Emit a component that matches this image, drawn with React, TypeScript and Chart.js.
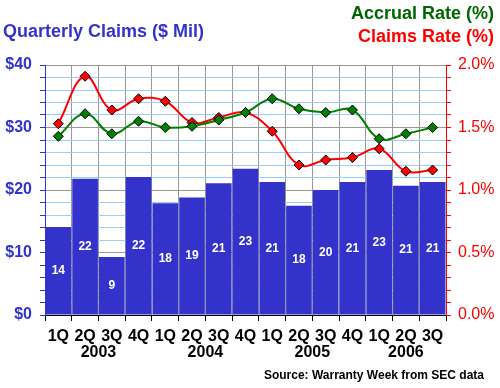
import React, { useEffect, useRef } from "react";
import { Chart, registerables } from "chart.js";
Chart.register(...registerables);

const quarters = ["1Q", "2Q", "3Q", "4Q", "1Q", "2Q", "3Q", "4Q", "1Q", "2Q", "3Q", "4Q", "1Q", "2Q", "3Q"];
const years = ["2003", "2004", "2005", "2006"];
const yearOfQuarter = [0, 0, 0, 0, 1, 1, 1, 1, 2, 2, 2, 2, 3, 3, 3];
const claimsMil = [14.1, 21.8, 9.3, 22.1, 17.9, 18.8, 21.1, 23.4, 21.3, 17.5, 20.0, 21.3, 23.2, 20.7, 21.3];
const claimsRate = [1.53, 1.91, 1.64, 1.73, 1.71, 1.54, 1.58, 1.62, 1.47, 1.2, 1.24, 1.26, 1.33, 1.15, 1.16];
const accrualRate = [1.43, 1.61, 1.45, 1.55, 1.5, 1.51, 1.56, 1.62, 1.73, 1.65, 1.62, 1.64, 1.41, 1.45, 1.5];

const FONT = "'Liberation Sans', Arial, sans-serif";
const BLUE = "#3333CC";
const RED = "#FF0000";
const GREEN = "#008000";

const textPlugin = {
  id: "textPlugin",
  afterDatasetsDraw(chart: any) {
    const ctx = chart.ctx;
    const meta = chart.getDatasetMeta(2);
    ctx.save();
    ctx.fillStyle = "#FFFFFF";
    ctx.font = `bold 12px ${FONT}`;
    ctx.textAlign = "center";
    ctx.textBaseline = "middle";
    meta.data.forEach((el: any, i: number) => {
      const y = (el.y + el.base) / 2;
      ctx.fillText(String(Math.round(claimsMil[i])), el.x, y);
    });
    ctx.restore();
  },
  afterDraw(chart: any) {
    const ctx = chart.ctx;
    const xs = chart.scales.x;
    ctx.save();
    ctx.textBaseline = "middle";
    // year labels
    ctx.fillStyle = "#000";
    ctx.font = `bold 16px ${FONT}`;
    ctx.textAlign = "center";
    years.forEach((yr, yi) => {
      const idx = yearOfQuarter.map((v, i) => (v === yi ? i : -1)).filter((i) => i >= 0);
      const a = xs.getPixelForValue(idx[0]);
      const b = xs.getPixelForValue(idx[idx.length - 1]);
      ctx.fillText(yr, (a + b) / 2, 353);
    });
    // titles
    ctx.font = `bold 18px ${FONT}`;
    ctx.textAlign = "left";
    ctx.fillStyle = BLUE;
    ctx.fillText("Quarterly Claims ($ Mil)", 3, 32);
    ctx.textAlign = "right";
    ctx.fillStyle = "#006600";
    ctx.fillText("Accrual Rate (%)", 494, 14);
    ctx.fillStyle = RED;
    ctx.fillText("Claims Rate (%)", 494, 37);
    // source
    ctx.fillStyle = "#000";
    ctx.font = `bold 12px ${FONT}`;
    ctx.fillText("Source: Warranty Week from SEC data", 484, 376);
    ctx.restore();
  },
};

export default function App() {
  const ref = useRef<HTMLCanvasElement | null>(null);
  useEffect(() => {
    if (!ref.current) return;
    const chart = new Chart(ref.current, {
      type: "bar",
      data: {
        labels: quarters,
        datasets: [
          {
            type: "line",
            label: "Accrual Rate (%)",
            data: accrualRate,
            yAxisID: "yR",
            borderColor: GREEN,
            borderWidth: 2,
            pointStyle: "rectRot",
            pointRadius: 5,
            pointBackgroundColor: GREEN,
            pointBorderColor: "#000",
            pointBorderWidth: 1,
            tension: 0.4,
            order: 0,
          },
          {
            type: "line",
            label: "Claims Rate (%)",
            data: claimsRate,
            yAxisID: "yR",
            borderColor: RED,
            borderWidth: 2,
            pointStyle: "rectRot",
            pointRadius: 5,
            pointBackgroundColor: RED,
            pointBorderColor: "#000",
            pointBorderWidth: 1,
            tension: 0.4,
            order: 1,
          },
          {
            type: "bar",
            label: "Quarterly Claims ($ Mil)",
            data: claimsMil,
            yAxisID: "yL",
            backgroundColor: BLUE,
            barPercentage: 0.96,
            categoryPercentage: 1,
            order: 2,
          },
        ],
      } as any,
      options: {
        animation: false,
        responsive: false,
        maintainAspectRatio: false,
        layout: { padding: { top: 65, left: 0, right: 0, bottom: 0 } },
        plugins: { legend: { display: false }, tooltip: { enabled: false }, title: { display: false } },
        scales: {
          x: {
            grid: { offset: true, color: "#999999", tickColor: "#000", tickLength: 6 },
            border: { color: "#000" },
            ticks: {
              color: "#000",
              font: { family: FONT, size: 16, weight: "bold" },
              padding: 6,
              maxRotation: 0,
              autoSkip: false,
            },
            afterFit: (s: any) => {
              s.height = 73;
            },
          },
          yL: {
            position: "left",
            min: 0,
            max: 40,
            ticks: {
              stepSize: 2,
              autoSkip: false,
              callback: (v: any) => (Math.round(v) % 10 === 0 ? "$" + v : ""),
              color: BLUE,
              font: { family: FONT, size: 16, weight: "bold" },
              padding: 8,
            },
            grid: {
              color: (c: any) => (Math.round(c.tick.value) % 10 === 0 ? "#999999" : "#99CCFF"),
              tickColor: BLUE,
              tickLength: 5,
            },
            border: { color: BLUE },
            afterFit: (s: any) => {
              s.width = 45;
            },
          },
          yR: {
            position: "right",
            min: 0,
            max: 2,
            ticks: {
              stepSize: 0.1,
              autoSkip: false,
              callback: (v: any) => (Math.round(v * 10) % 5 === 0 ? Number(v).toFixed(1) + "%" : ""),
              color: RED,
              font: { family: FONT, size: 16 },
              padding: 7,
            },
            grid: { drawOnChartArea: false, tickColor: RED, tickLength: 5 },
            border: { color: RED },
            afterFit: (s: any) => {
              s.width = 54;
            },
          },
        },
      } as any,
      plugins: [textPlugin],
    });
    return () => chart.destroy();
  }, []);
  return (
    <div style={{ position: "absolute", left: 0, top: 0, width: 500, height: 388, background: "#fff" }}>
      <canvas ref={ref} width={500} height={388} style={{ display: "block" }} />
    </div>
  );
}
